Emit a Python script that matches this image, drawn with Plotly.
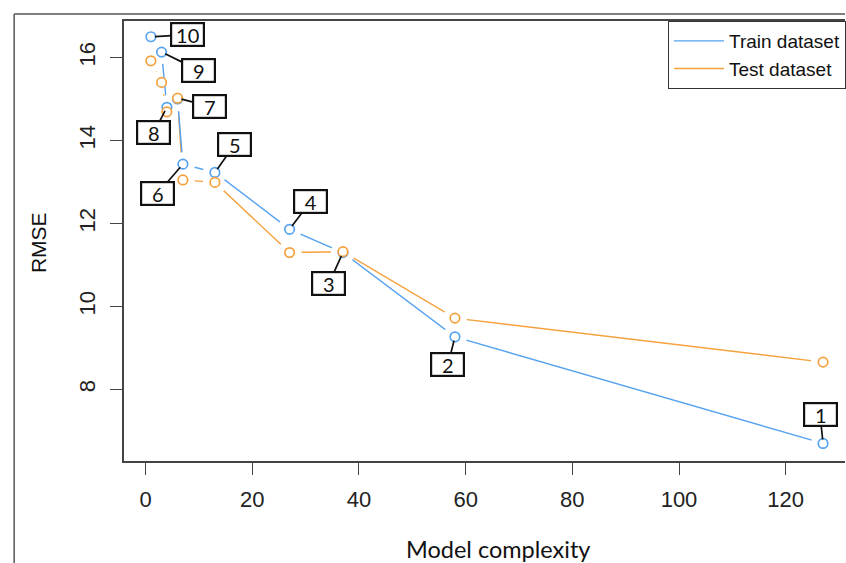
import plotly.graph_objects as go

# Model index, complexity and RMSE for each fitted model
model_id = [1, 2, 3, 4, 5, 6, 7, 8, 9, 10]
complexity = [127, 58, 37, 27, 13, 7, 6, 4, 3, 1]
rmse_train = [6.70, 9.27, 11.30, 11.86, 13.23, 13.43, 15.00, 14.80, 16.13, 16.50]
rmse_test = [8.66, 9.72, 11.32, 11.30, 12.99, 13.05, 15.02, 14.69, 15.40, 15.92]

# Which series each model label points at
label_series = ["train", "train", "train", "train", "train",
                "train", "test", "train", "train", "train"]
# Pixel offset of each label box from its point
label_offset = [(-3, -29), (-7, 28), (-14, 31), (21, -28), (20, -28),
                (-25, 29), (32, 8), (-13, 25), (37, 18), (37, -2)]

x_ticks = [0, 20, 40, 60, 80, 100, 120]
y_ticks = [8, 10, 12, 14, 16]

BLUE = "#55A2EF"
ORANGE = "#F5A13D"
W, H = 846, 563
L, T, B, R = 124, 21, 102, 0

fig = go.Figure()


def add_series(name, y, color, rank):
    # line with a white halo at each point so segments stop short of the markers
    fig.add_trace(go.Scatter(
        x=complexity, y=y, mode="lines", name=name,
        line=dict(color=color, width=1.4), legendrank=rank,
        hoverinfo="skip"))
    fig.add_trace(go.Scatter(
        x=complexity, y=y, mode="markers", showlegend=False,
        marker=dict(size=24, color="white", line=dict(width=0)),
        hoverinfo="skip"))


def add_points(y, color):
    fig.add_trace(go.Scatter(
        x=complexity, y=y, mode="markers", showlegend=False,
        marker=dict(size=9.5, color="white", symbol="circle",
                    line=dict(color=color, width=1.7))))


add_series("Test dataset", rmse_test, ORANGE, 2)
add_series("Train dataset", rmse_train, BLUE, 1)
add_points(rmse_train, BLUE)
add_points(rmse_test, ORANGE)

# numbered call-outs
for mid, ser, (ax, ay) in zip(model_id, label_series, label_offset):
    i = model_id.index(mid)
    yv = rmse_train[i] if ser == "train" else rmse_test[i]
    fig.add_annotation(
        x=complexity[i], y=yv, text=str(mid),
        showarrow=True, arrowhead=0, arrowwidth=1.7, arrowcolor="#111",
        ax=ax, ay=ay, standoff=4,
        font=dict(family="Lato", size=20, color="#111"),
        bgcolor="white", bordercolor="#111", borderwidth=2.2,
        borderpad=1, width=29, height=19)

pw = W - L - R
ph = H - T - B


def px_to_paper_x(px):
    return (px - L) / pw


def px_to_paper_y(py):
    return (H - B - py) / ph


# axis titles
fig.add_annotation(
    x=px_to_paper_x(499), y=px_to_paper_y(549), xref="paper", yref="paper",
    text="Model complexity", showarrow=False,
    font=dict(family="Lato", size=23.5, color="#111"),
    xanchor="center", yanchor="middle")
fig.add_annotation(
    x=px_to_paper_x(38), y=px_to_paper_y(243), xref="paper", yref="paper",
    text="RMSE", showarrow=False, textangle=-90,
    font=dict(family="Liberation Sans", size=21, color="#111"),
    xanchor="center", yanchor="middle")

# outer frame on the left and top edges
fig.add_shape(type="line", xref="paper", yref="paper",
              x0=px_to_paper_x(14), x1=1.0, y0=px_to_paper_y(14), y1=px_to_paper_y(14),
              line=dict(color="#555", width=1.5))
fig.add_shape(type="line", xref="paper", yref="paper",
              x0=px_to_paper_x(14), x1=px_to_paper_x(14), y0=px_to_paper_y(14),
              y1=px_to_paper_y(H + 2),
              line=dict(color="#555", width=1.5))

tick_font = dict(family="Liberation Sans", size=22, color="#222")
fig.update_xaxes(
    range=[-4.04, -4.04 + pw / 5.342], tickvals=x_ticks,
    ticks="outside", ticklen=12, tickwidth=1.3, tickcolor="#444",
    showline=True, mirror=True, linecolor="#444", linewidth=1.5,
    showgrid=False, zeroline=False, tickfont=tick_font,
    ticklabelstandoff=6, automargin=False)
fig.update_yaxes(
    range=[16 - (H - B - T - 36.5) / 41.5, 16 + 36.5 / 41.5], tickvals=y_ticks,
    ticks="outside", ticklen=12, tickwidth=1.3, tickcolor="#444",
    showline=True, mirror=False, linecolor="#444", linewidth=1.5,
    showgrid=False, zeroline=False, tickfont=tick_font, tickangle=-90,
    ticklabelstandoff=6, automargin=False)

fig.update_layout(
    width=W, height=H,
    margin=dict(l=L, r=R, t=T, b=B, pad=0),
    paper_bgcolor="white", plot_bgcolor="white",
    showlegend=True,
    legend=dict(
        x=px_to_paper_x(669), y=1.0, xanchor="left", yanchor="top",
        bgcolor="white", bordercolor="#333", borderwidth=1,
        font=dict(family="Liberation Sans", size=19, color="#111"),
        itemwidth=50, tracegroupgap=0),
)

fig.write_html("out.html")
